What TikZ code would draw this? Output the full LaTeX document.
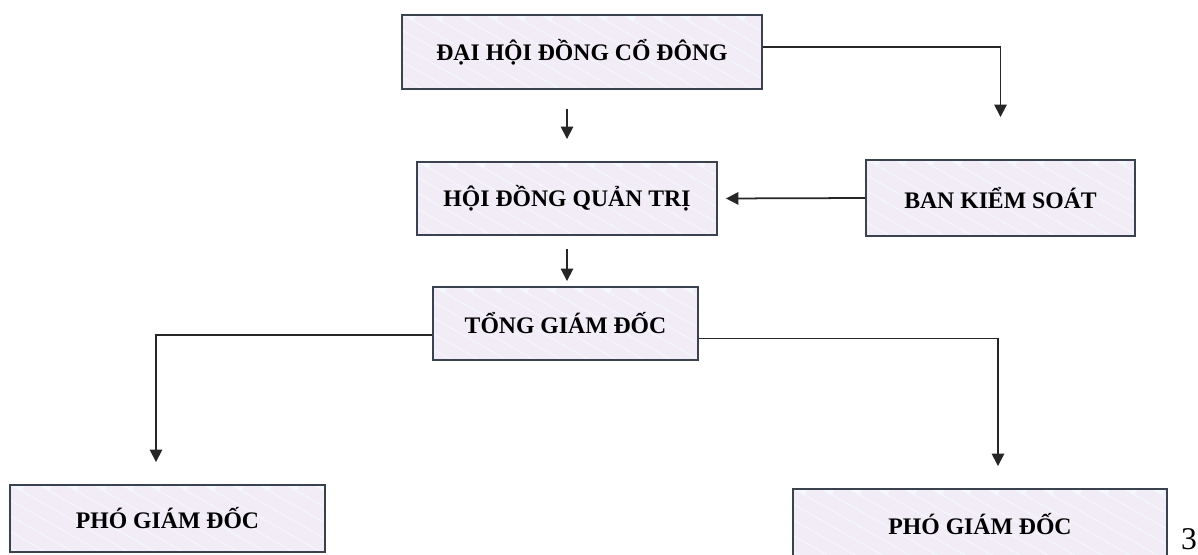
\documentclass[tikz,border=0pt]{standalone}
\usepackage{fontspec}
\setmainfont{Liberation Serif}
\usetikzlibrary{arrows.meta, positioning}
\definecolor{box-line}{HTML}{3a4250}
\definecolor{box-bg}{HTML}{f4f8fd}
\definecolor{box-stripe}{HTML}{f1ecf6}

\begin{document}
\begin{tikzpicture}[
    box/.style={draw=box-line, line width=1.1pt, fill=box-bg, align=center, inner sep=0pt, font=\fontsize{13.5}{15}\selectfont\bfseries,
        path picture={\foreach \s in {-3,-2.45,...,8}{\draw[box-stripe, line width=7pt] ([xshift=\s cm]path picture bounding box.north west) -- ++(2.8,-1.6);}}},
    arrow/.style={-{Triangle[width=7pt, length=7pt]}, line width=1pt, black!85}
]
    \useasboundingbox (0,0) rectangle (23.96,-11.08);
    \node[box, minimum width=7.2cm, minimum height=1.48cm] (dhcd) at (11.64,-1.04) {ĐẠI HỘI ĐỒNG CỔ ĐÔNG};
    \node[box, minimum width=6cm, minimum height=1.46cm] (hdqt) at (11.34,-3.97) {HỘI ĐỒNG QUẢN TRỊ};
    \node[box, minimum width=5.38cm, minimum height=1.52cm] (bks) at (20.01,-3.96) {BAN KIỂM SOÁT};
    \node[box, minimum width=5.3cm, minimum height=1.46cm] (tgd) at (11.31,-6.47) {TỔNG GIÁM ĐỐC};
    \node[box, minimum width=6.3cm, minimum height=1.34cm] (pgd1) at (3.35,-10.37) {PHÓ GIÁM ĐỐC};
    \node[box, minimum width=7.48cm, minimum height=1.4cm] (pgd2) at (19.6,-10.48) {PHÓ GIÁM ĐỐC};
    \node[font=\fontsize{18}{20}\selectfont] (page) at (23.78,-10.78) {3};

    \draw[arrow, shorten <=0.38cm, shorten >=0.44cm] (dhcd.south -| hdqt) -- (hdqt.north);
    \draw[arrow, shorten >=0.84cm] ([yshift=0.1cm]dhcd.east) -| (bks.north);
    \draw[arrow, shorten >=0.16cm] (bks.west) -- (hdqt.east);
    \draw[arrow, shorten <=0.26cm, shorten >=0.1cm] (hdqt.south) -- (hdqt.south |- tgd.north);
    \draw[arrow, shorten >=0.44cm] ([yshift=-0.23cm]tgd.west) -| ([xshift=-0.23cm]pgd1.north);
    \draw[arrow, shorten >=0.44cm] ([yshift=-0.3cm]tgd.east) -| ([xshift=0.36cm]pgd2.north);
\end{tikzpicture}
\end{document}
